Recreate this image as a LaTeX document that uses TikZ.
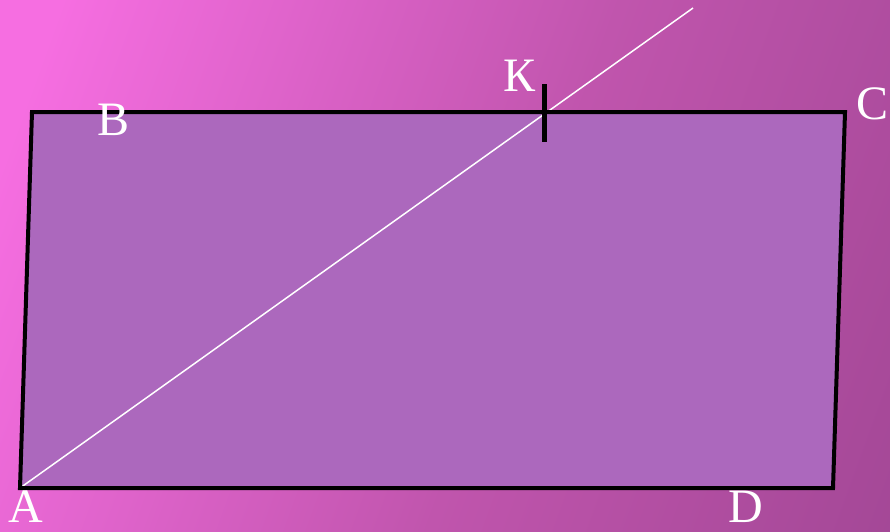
\documentclass[tikz,border=0pt]{standalone}
\usepackage{fontspec}
\setmainfont{Liberation Serif}
\definecolor{bgpink}{HTML}{F66EE1}
\definecolor{bgplum}{HTML}{9E4592}
\definecolor{bgmid}{HTML}{C055AD}
\definecolor{figfill}{HTML}{AC68BD}
\begin{document}
\begin{tikzpicture}[
  x=1pt, y=-1pt,
  lbl/.style={text=white, font=\fontsize{48}{48}\selectfont, inner sep=0pt},
  edge/.style={draw, black, line width=4pt, line join=miter},
  ray/.style={draw, white, line width=1.5pt},
  tick/.style={draw, black, line width=5pt},
]
% ---------------- background ----------------
\useasboundingbox (0,0) rectangle (890,531);
\begin{scope}
  \clip (0,0) rectangle (890,531);
  \shade[left color=bgpink, right color=bgplum, middle color=bgmid, shading angle=70]
    (-100,0) rectangle (1150,531);
\end{scope}

% ---------------- the parallelogram ----------------
\coordinate (A) at ( 20,488);
\coordinate (B) at ( 32,112);
\coordinate (C) at (845,112);
\coordinate (D) at (833,488);
\coordinate (K) at (544,112);
\coordinate (ktop) at (544, 84);
\coordinate (kbot) at (544,142);
\coordinate (rayend) at (693,8);

\fill[figfill] (A) -- (B) -- (C) -- (D) -- cycle;
\draw[ray] (A) -- (rayend);
\draw[edge] (A) -- (B) -- (C) -- (D) -- cycle;
\draw[tick] (ktop) -- (kbot);

% ---------------- labels ----------------
\node[lbl] (lA) at ( 26,507) {A};
\node[lbl] (lB) at (114,120) {B};
\node[lbl] (lC) at (872,104) {C};
\node[lbl] (lD) at (746,507) {D};
\node[lbl] (lK) at (519, 76) {К};
\end{tikzpicture}
\end{document}
